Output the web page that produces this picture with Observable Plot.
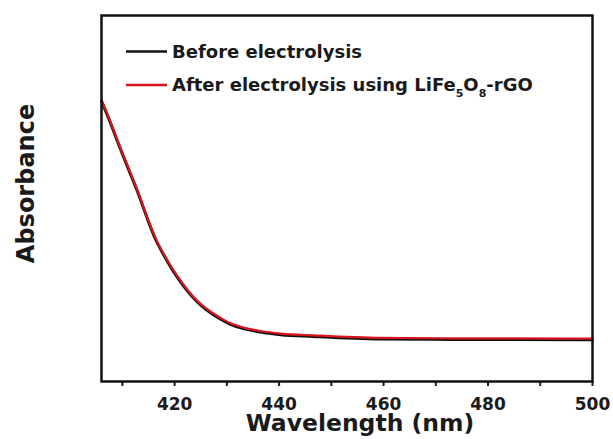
<!DOCTYPE html>
<html>
<head>
<meta charset="utf-8">
<script src="https://cdn.jsdelivr.net/npm/d3@7"></script>
<script src="https://cdn.jsdelivr.net/npm/@observablehq/plot@0.6"></script>
<style>
  html, body { margin: 0; padding: 0; background: #fff; }
  #chart svg { display: block; }
</style>
</head>
<body>
<div id="chart"></div>
<script>
// UV-vis absorbance spectra (arbitrary units) before and after electrolysis
const wavelength = [406, 407.4, 409.3, 411.2, 413.1, 414.9, 416.3, 417.9, 419.5, 421.1, 422.7, 424.3, 425.9, 427.5, 429.1, 430.7, 433.6, 436.4, 440.3, 446.6, 459.4, 472.8, 500];
const absBefore  = [0.766, 0.718, 0.647, 0.579, 0.511, 0.440, 0.390, 0.346, 0.307, 0.273, 0.243, 0.218, 0.198, 0.182, 0.168, 0.156, 0.143, 0.135, 0.128, 0.123, 0.116, 0.115, 0.114];
const absAfter   = [0.768, 0.721, 0.650, 0.582, 0.514, 0.443, 0.393, 0.349, 0.310, 0.276, 0.246, 0.221, 0.201, 0.185, 0.171, 0.159, 0.146, 0.138, 0.131, 0.126, 0.119, 0.118, 0.117];

const seriesNames  = ["Before electrolysis", "After electrolysis using LiFe5O8-rGO"];
const seriesColors = ["#111111", "#d8141c"];

const majorTicks = [420, 440, 460, 480, 500];
const minorTicks = [410, 430, 450, 470, 490];

const xTitle = "Wavelength (nm)";
const yTitle = "Absorbance";

const font = "'DejaVu Sans', 'Liberation Sans', sans-serif";

const before = wavelength.map((w, i) => ({w, a: absBefore[i]}));
const after  = wavelength.map((w, i) => ({w, a: absAfter[i]}));

const chart = Plot.plot({
  width: 613,
  height: 439,
  marginLeft: 101,
  marginRight: 21,
  marginTop: 15,
  marginBottom: 58,
  style: {fontFamily: font, background: "#fff", color: "#1a1a1a"},
  x: {domain: [406, 500]},
  y: {domain: [0, 1], axis: null},
  marks: [
    Plot.lineY(before, {x: "w", y: "a", stroke: seriesColors[0], strokeWidth: 3, curve: "monotone-x"}),
    Plot.lineY(after,  {x: "w", y: "a", stroke: seriesColors[1], strokeWidth: 2.2, curve: "monotone-x"}),
    // unlabeled minor ticks
    Plot.axisX({ticks: minorTicks, tickSize: 5, tickFormat: () => "", label: null, strokeWidth: 2}),
    // labeled major ticks
    Plot.axisX({ticks: majorTicks, tickSize: 5, tickPadding: 11, tickFormat: d => String(d),
                label: null, strokeWidth: 2, fontSize: 17, fontWeight: "bold"}),
    Plot.text([xTitle], {frameAnchor: "bottom", dx: 13, dy: 42, lineAnchor: "middle", textAnchor: "middle",
                         fontSize: 23.5, fontWeight: "bold", fill: "#1a1a1a"}),
    Plot.text([yTitle], {frameAnchor: "left", rotate: -90, dx: -75, dy: -15, lineAnchor: "middle", textAnchor: "middle",
                         fontSize: 24, fontWeight: "bold", fill: "#1a1a1a"}),
    Plot.frame({stroke: "#111", strokeWidth: 2.5})
  ]
});

const svg = d3.select(chart);
// drop the empty labels left by the minor-tick axis
svg.selectAll("text").filter(function () { return this.textContent === ""; }).remove();

// Legend inside the plot area, with chemical-formula digits as subscripts
const legend = svg.append("g")
  .attr("font-family", font)
  .attr("font-weight", "bold")
  .attr("font-size", 18)
  .attr("text-anchor", "start")
  .attr("fill", "#1a1a1a");

seriesNames.forEach((name, i) => {
  const cy = 51.5 + i * 33.5;
  legend.append("line")
    .attr("x1", 126).attr("x2", 167)
    .attr("y1", cy).attr("y2", cy)
    .attr("stroke", seriesColors[i])
    .attr("stroke-width", 2.6);
  const t = legend.append("text")
    .attr("x", 172)
    .attr("y", cy)
    .attr("dy", "0.36em");
  // digits following a letter (chemical formula) become subscripts
  const parts = name.split(/(?<=[A-Za-z])(\d+)/).filter(p => p !== undefined);
  let shifted = false;
  parts.forEach((p, j) => {
    if (p === "") return;
    const sub = j % 2 === 1;
    const span = t.append("tspan").text(p);
    if (sub) {
      span.attr("font-size", 11).attr("dy", 6);
      shifted = true;
    } else if (shifted) {
      span.attr("dy", -6);
      shifted = false;
    }
  });
});

document.getElementById("chart").appendChild(chart);
</script>
</body>
</html>
